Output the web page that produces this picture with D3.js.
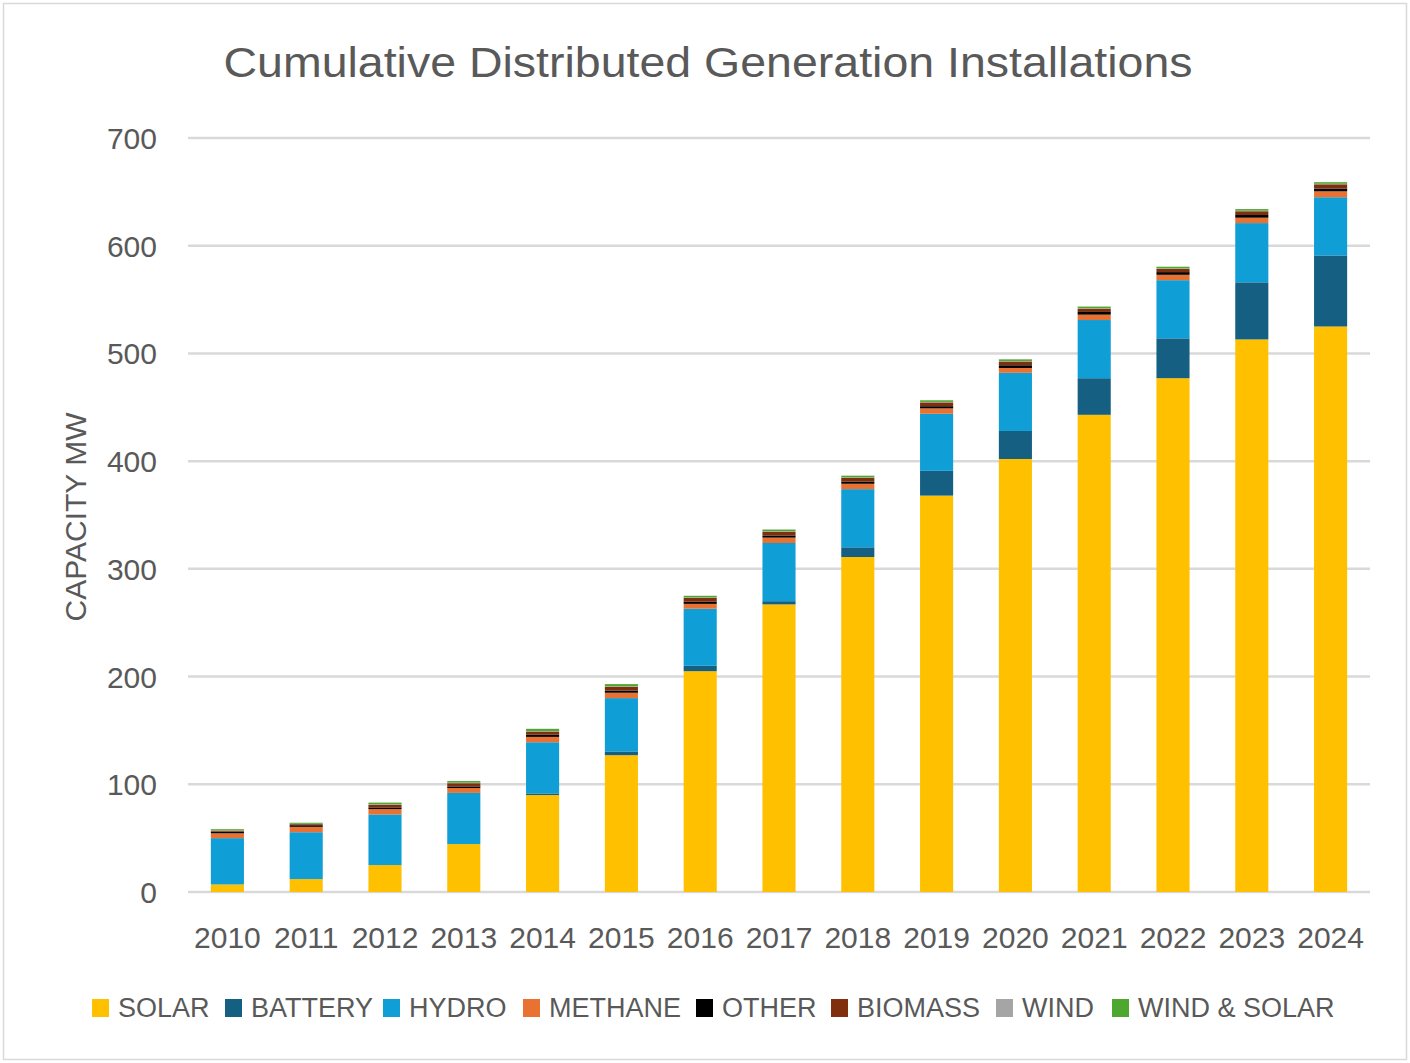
<!DOCTYPE html>
<html><head><meta charset="utf-8">
<script src="https://cdn.jsdelivr.net/npm/d3@7"></script>
<style>body{margin:0;background:#fff;} svg{display:block;}</style>
</head><body>
<script>
const years = ["2010","2011","2012","2013","2014","2015","2016","2017","2018","2019","2020","2021","2022","2023","2024"];
const seriesNames = ["SOLAR","BATTERY","HYDRO","METHANE","OTHER","BIOMASS","WIND","WIND & SOLAR"];
const seriesColors = ["#FFC000","#156082","#0F9ED5","#E97132","#000000","#7F2F0E","#A5A5A5","#4EA72E"];
const solar    = [7, 12, 25, 44.5, 90, 127, 205, 267, 311, 368, 402, 443, 477, 513, 525];
const battery  = [0, 0, 0, 0, 1.5, 3.5, 5, 3, 9, 23, 26, 34, 37, 53, 66];
const hydro    = [43, 43.5, 47, 47.5, 47.5, 49.5, 53, 54, 54, 53, 54, 54, 54, 55, 54];
const methane  = [4.5, 5, 5, 4.5, 5, 5, 4.5, 5, 5, 5, 4.5, 5, 5, 5, 5.5];
const other    = [1.5, 1.5, 1.5, 1.5, 2, 2, 2, 2, 2, 2, 2.5, 2.5, 2.5, 2.5, 2.5];
const biomass  = [1, 1, 2.5, 3, 3, 3.5, 3.5, 3.5, 3.5, 3.5, 3.5, 3, 3, 3.5, 4];
const wind     = [0.3, 0.3, 0.5, 0.5, 0.5, 0.5, 0.5, 0.5, 0.5, 0.5, 0.5, 0.5, 0.5, 0.5, 0.5];
const windSolar= [1, 1, 1.5, 1.5, 2, 2, 1.5, 1.5, 1.5, 1.5, 1.5, 1.5, 1.5, 1.5, 1.5];
const yTicks = [0,100,200,300,400,500,600,700];

const seriesValues = [solar,battery,hydro,methane,other,biomass,wind,windSolar];
const rows = years.map((y,i)=>{const r={year:y}; seriesNames.forEach((s,j)=>r[s]=seriesValues[j][i]); return r;});

const W=1410,H=1063;
const svg=d3.select("body").append("svg").attr("width",W).attr("height",H);
svg.append("rect").attr("x",3.5).attr("y",3.5).attr("width",W-7).attr("height",H-7).attr("fill","#fff").attr("stroke","#d9d9d9").attr("stroke-width",1.5);

const font="'Liberation Sans', Arial, sans-serif";
const txt="#595959";
const x=d3.scaleBand().domain(years).range([188,1370]).paddingInner(0.58).paddingOuter(0.29);
const y=d3.scaleLinear().domain([0,700]).range([892,138]);

// grid
svg.append("g").selectAll("line").data(yTicks).join("line")
  .attr("x1",188).attr("x2",1370).attr("y1",d=>y(d)).attr("y2",d=>y(d))
  .attr("stroke","#d9d9d9").attr("stroke-width",2.5);

const stack=d3.stack().keys(seriesNames)(rows);
svg.append("g").selectAll("g").data(stack).join("g").attr("fill",(d,i)=>seriesColors[i])
  .selectAll("rect").data(d=>d).join("rect")
  .attr("x",d=>x(d.data.year)).attr("width",x.bandwidth())
  .attr("y",d=>y(d[1])).attr("height",d=>Math.max(0,y(d[0])-y(d[1])));

// y axis
const ya=svg.append("g").attr("transform","translate(157,0)").call(d3.axisLeft(y).tickValues(yTicks).tickSize(0).tickPadding(0));
ya.select(".domain").remove();
ya.selectAll("text").attr("font-family",font).attr("font-size",30).attr("fill",txt).attr("dy","0.35em");

// x axis
const xa=svg.append("g").attr("transform","translate(0,892)").call(d3.axisBottom(x).tickSize(0).tickPadding(0));
xa.select(".domain").remove();
xa.selectAll("text").attr("font-family",font).attr("font-size",30).attr("fill",txt).attr("y",45).attr("dy","0.35em");

// titles
svg.append("text").attr("x",708).attr("y",62).attr("text-anchor","middle").attr("dominant-baseline","central")
  .attr("font-family",font).attr("font-size",43).attr("fill",txt)
  .attr("textLength",969).attr("lengthAdjust","spacingAndGlyphs")
  .text("Cumulative Distributed Generation Installations");
svg.append("text").attr("transform","translate(75,517) rotate(-90)").attr("text-anchor","middle").attr("dominant-baseline","central")
  .attr("font-family",font).attr("font-size",30).attr("fill",txt).text("CAPACITY MW");

// legend
const legX=[92,225,383,523,696,831,996,1112];
const lg=svg.append("g").selectAll("g").data(seriesNames).join("g").attr("transform",(d,i)=>`translate(${legX[i]},1008)`);
lg.append("rect").attr("x",0).attr("y",-9).attr("width",17).attr("height",18).attr("fill",(d,i)=>seriesColors[i]);
lg.append("text").attr("x",26).attr("y",0).attr("dominant-baseline","central").attr("font-family",font).attr("font-size",27).attr("fill",txt).text(d=>d);
</script>
</body></html>
